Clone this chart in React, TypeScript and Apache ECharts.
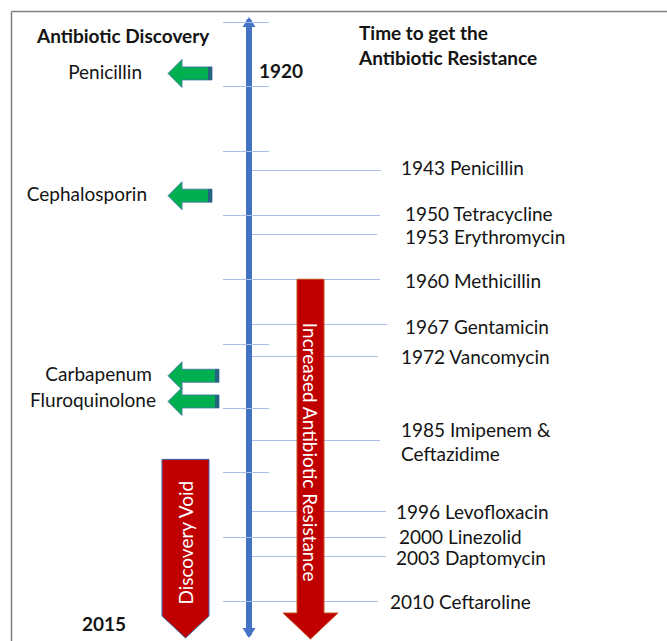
import { useEffect, useRef } from 'react';
import * as echarts from 'echarts';

// ---- data ----
const timelineStart = 1920;
const timelineEnd = 2015;
const tickYears = [1920, 1930, 1940, 1950, 1960, 1970, 1980, 1990, 2000, 2010];

const discoveryDrugs = ['Penicillin', 'Cephalosporin', 'Carbapenum', 'Fluroquinolone'];
const discoveryYears = [1928, 1947, 1975, 1979];

const resistanceYears = [1943, 1950, 1953, 1960, 1967, 1972, 1985, 1996, 2000, 2003, 2010];
const resistanceDrugs = [
  'Penicillin',
  'Tetracycline',
  'Erythromycin',
  'Methicillin',
  'Gentamicin',
  'Vancomycin',
  'Imipenem &\nCeftazidime',
  'Levofloxacin',
  'Linezolid',
  'Daptomycin',
  'Ceftaroline',
];

const resistanceTrendStart = 1960;
const discoveryVoidStart = 1988;

// ---- layout (pixel offsets from the timeline axis) ----
const W = 667;
const H = 641;
const AXIS_X = 249;
const resistLineEnd = [132, 131, 128, 131, 138, 129, 131, 137, 137, 137, 129];
const resistLabelX = [152, 156, 156, 156, 156, 152, 152, 147, 150, 147, 141];
const resistLabelDy = [-2, -1, 2, 1, 2, 0, 1, 1, 0, 1.5, 1];
const discoveryArrowEnd = [-37, -37, -30, -30];
const discoveryLabelRight = [-107, -102, -97, -93];

const FONT = 'Lato, "Noto Sans", sans-serif';
const LIGHT = '#A7BEE6';
const BLUE = '#4472C4';
const RED = '#C00000';
const GREEN = '#00B050';
const TEXT = '#141414';

export default function App() {
  const ref = useRef<HTMLDivElement>(null);

  useEffect(() => {
    if (!ref.current) return;
    const chart = echarts.init(ref.current, null, { renderer: 'svg' });

    const boldText = (text: string, x: number, y: number) => ({
      type: 'text',
      x,
      y,
      style: { text, font: `bold 19px ${FONT}`, fill: TEXT, align: 'left', verticalAlign: 'middle' },
    });

    const option: any = {
      animation: false,
      backgroundColor: '#ffffff',
      grid: { left: 12, right: 0, top: 22, bottom: H - 633 },
      xAxis: {
        type: 'value',
        min: -(AXIS_X - 12),
        max: W - AXIS_X,
        show: false,
      },
      yAxis: {
        type: 'value',
        inverse: true,
        min: timelineStart,
        max: timelineEnd,
        interval: 10,
        axisLabel: { show: false },
        axisTick: { show: false },
        splitLine: { show: false },
        axisLine: {
          show: true,
          onZero: true,
          symbol: ['triangle', 'triangle'],
          symbolSize: [13, 10],
          lineStyle: { color: BLUE, width: 6 },
        },
        z: 1,
      },
      graphic: [
        { type: 'line', shape: { x1: 11.5, y1: 11.5, x2: W, y2: 11.5 }, style: { stroke: '#7F7F7F', lineWidth: 1.5 } },
        { type: 'line', shape: { x1: 11.5, y1: 11.5, x2: 11.5, y2: H }, style: { stroke: '#7F7F7F', lineWidth: 1.5 } },
        boldText('Antibiotic Discovery', 37, 35),
        boldText('Time to get the', 359, 32),
        boldText('Antibiotic Resistance', 359, 57),
        boldText(String(timelineStart), 259, 70),
        boldText(String(timelineEnd), 82, 623),
      ],
      series: [
        {
          type: 'custom',
          name: 'ticks',
          data: tickYears.map((y) => [0, y]),
          z: 2,
          renderItem: (params: any, api: any) => {
            const y = api.value(1);
            const a = api.coord([-26, y]);
            const b = api.coord([20, y]);
            return {
              type: 'line',
              shape: { x1: a[0], y1: Math.round(a[1]) + 0.5, x2: b[0], y2: Math.round(b[1]) + 0.5 },
              style: { stroke: LIGHT, lineWidth: 1 },
            };
          },
        },
        {
          type: 'custom',
          name: 'resistance',
          data: resistanceYears.map((y) => [0, y]),
          z: 2,
          renderItem: (params: any, api: any) => {
            const i = params.dataIndex;
            const y = api.value(1);
            const a = api.coord([3, y]);
            const b = api.coord([resistLineEnd[i], y]);
            const t = api.coord([resistLabelX[i], y]);
            const txt = `${resistanceYears[i]} ${resistanceDrugs[i]}`;
            return {
              type: 'group',
              children: [
                {
                  type: 'line',
                  shape: { x1: a[0], y1: Math.round(a[1]) + 0.5, x2: b[0], y2: Math.round(b[1]) + 0.5 },
                  style: { stroke: LIGHT, lineWidth: 1 },
                },
                {
                  type: 'text',
                  x: t[0],
                  y: t[1] + resistLabelDy[i],
                  style: {
                    text: txt,
                    font: `19px ${FONT}`,
                    fill: TEXT,
                    align: 'left',
                    verticalAlign: 'middle',
                    lineHeight: txt.indexOf('\n') >= 0 ? 24 : 18,
                  },
                },
              ],
            };
          },
        },
        {
          type: 'custom',
          name: 'discovery',
          data: discoveryYears.map((y) => [0, y]),
          z: 3,
          renderItem: (params: any, api: any) => {
            const i = params.dataIndex;
            const y = api.value(1);
            const tip = api.coord([-81, y]);
            const xb = api.coord([-67, y])[0];
            const xr = api.coord([discoveryArrowEnd[i], y])[0];
            const yc = tip[1];
            const lbl = api.coord([discoveryLabelRight[i], y]);
            return {
              type: 'group',
              children: [
                {
                  type: 'polygon',
                  shape: {
                    points: [
                      [tip[0], yc],
                      [xb, yc - 14],
                      [xb, yc - 6.5],
                      [xr, yc - 6.5],
                      [xr, yc + 6.5],
                      [xb, yc + 6.5],
                      [xb, yc + 14],
                    ],
                  },
                  style: { fill: GREEN, stroke: '#3E6FA8', lineWidth: 0.8 },
                },
                {
                  type: 'rect',
                  shape: { x: xr - 4, y: yc - 6.5, width: 4, height: 13 },
                  style: { fill: '#25647F' },
                },
                {
                  type: 'text',
                  x: lbl[0],
                  y: lbl[1] - 2,
                  style: {
                    text: discoveryDrugs[i],
                    font: `19px ${FONT}`,
                    fill: TEXT,
                    align: 'right',
                    verticalAlign: 'middle',
                    lineHeight: 18,
                  },
                },
              ],
            };
          },
        },
        {
          type: 'custom',
          name: 'trends',
          data: [
            [0, resistanceTrendStart],
            [0, discoveryVoidStart],
          ],
          z: 4,
          renderItem: (params: any, api: any) => {
            const i = params.dataIndex;
            const y0 = api.coord([0, api.value(1)])[1];
            const yEnd = api.coord([0, timelineEnd])[1];
            if (i === 0) {
              const c = api.coord([61.5, 0])[0];
              const tipY = yEnd + 6;
              const yH = tipY - 26;
              return {
                type: 'group',
                children: [
                  {
                    type: 'polygon',
                    shape: {
                      points: [
                        [c - 13.5, y0],
                        [c + 13.5, y0],
                        [c + 13.5, yH],
                        [c + 27.5, yH],
                        [c, tipY],
                        [c - 27.5, yH],
                        [c - 13.5, yH],
                      ],
                    },
                    style: { fill: RED, stroke: '#C8501E', lineWidth: 1 },
                  },
                  {
                    type: 'text',
                    x: c,
                    y: (y0 + yH) / 2 + 6,
                    rotation: -Math.PI / 2,
                    style: {
                      text: 'Increased Antibiotic Resistance',
                      font: `19px ${FONT}`,
                      fill: '#ffffff',
                      align: 'center',
                      verticalAlign: 'middle',
                    },
                  },
                ],
              };
            }
            const c = api.coord([-63.5, 0])[0];
            const tipY = yEnd + 5;
            const yS = tipY - 22;
            return {
              type: 'group',
              children: [
                {
                  type: 'polygon',
                  shape: {
                    points: [
                      [c - 23.5, y0],
                      [c + 23.5, y0],
                      [c + 23.5, yS],
                      [c, tipY],
                      [c - 23.5, yS],
                    ],
                  },
                  style: { fill: RED, stroke: '#3E64A8', lineWidth: 1 },
                },
                {
                  type: 'text',
                  x: c,
                  y: (y0 + yS) / 2 + 5,
                  rotation: Math.PI / 2,
                  style: {
                    text: 'Discovery Void',
                    font: `19px ${FONT}`,
                    fill: '#ffffff',
                    align: 'center',
                    verticalAlign: 'middle',
                  },
                },
              ],
            };
          },
        },
      ],
    };

    chart.setOption(option);
    return () => chart.dispose();
  }, []);

  return (
    <div
      ref={ref}
      style={{ position: 'fixed', left: 0, top: 0, width: W, height: H, background: '#fff' }}
    />
  );
}
